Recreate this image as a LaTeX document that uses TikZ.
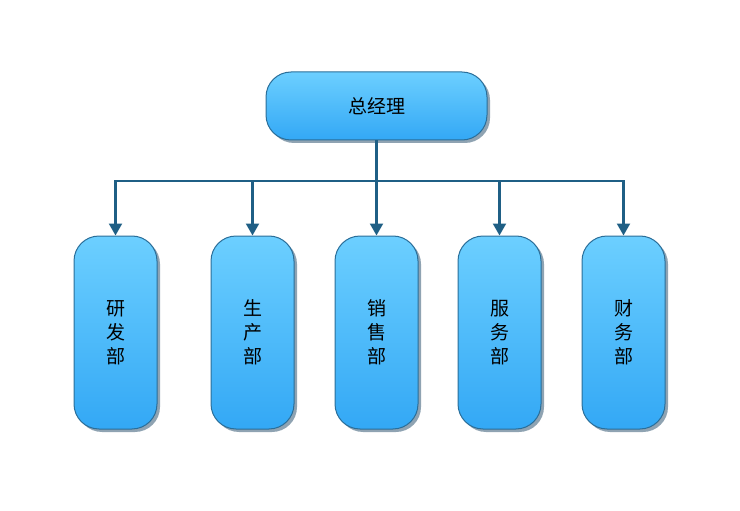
\documentclass[tikz,border=0pt]{standalone}
\usepackage{fontspec}
\setmainfont{Noto Sans CJK SC}
\usetikzlibrary{arrows.meta,shadows}
\definecolor{bordc}{HTML}{2A6E99}
\definecolor{linec}{HTML}{1F5F85}
\definecolor{topc}{HTML}{6CCFFF}
\definecolor{botc}{HTML}{33A8F5}
\definecolor{shadc}{HTML}{8FA3B2}
\tikzset{
  x=1pt,y=-1pt,
  box/.style={draw=bordc,line width=1pt,rounded corners=25pt,top color=topc,bottom color=botc,
    drop shadow={shadow xshift=3pt,shadow yshift=-3pt,fill=shadc,opacity=1},
    inner sep=0pt,font=\fontsize{19pt}{24pt}\selectfont,text=black,align=center},
  conn/.style={draw=linec,line width=2.2pt},
  arr/.style={conn,-{Triangle[length=12pt,width=13pt]}}
}
\begin{document}
\begin{tikzpicture}
\useasboundingbox (0,0) rectangle (740,511);
\node[box,minimum width=221pt,minimum height=68pt] (gm) at (376.5,106) {总经理};
\foreach \n/\x/\t in {a/115.5/研\\发\\部, b/252.5/生\\产\\部, c/376.5/销\\售\\部, d/499.5/服\\务\\部, e/623.5/财\\务\\部}{
  \node[box,minimum width=83pt,minimum height=193pt] (\n) at (\x,332.5) {\t};
}
\coordinate (j) at (376.5,181);
\draw[conn] (gm.south) -- (j);
\draw[arr] (j) -- (c.north);
\draw[arr] (j) -| (a.north);
\draw[arr] (j) -| (b.north);
\draw[arr] (j) -| (d.north);
\draw[arr] (j) -| (e.north);
\end{tikzpicture}
\end{document}
